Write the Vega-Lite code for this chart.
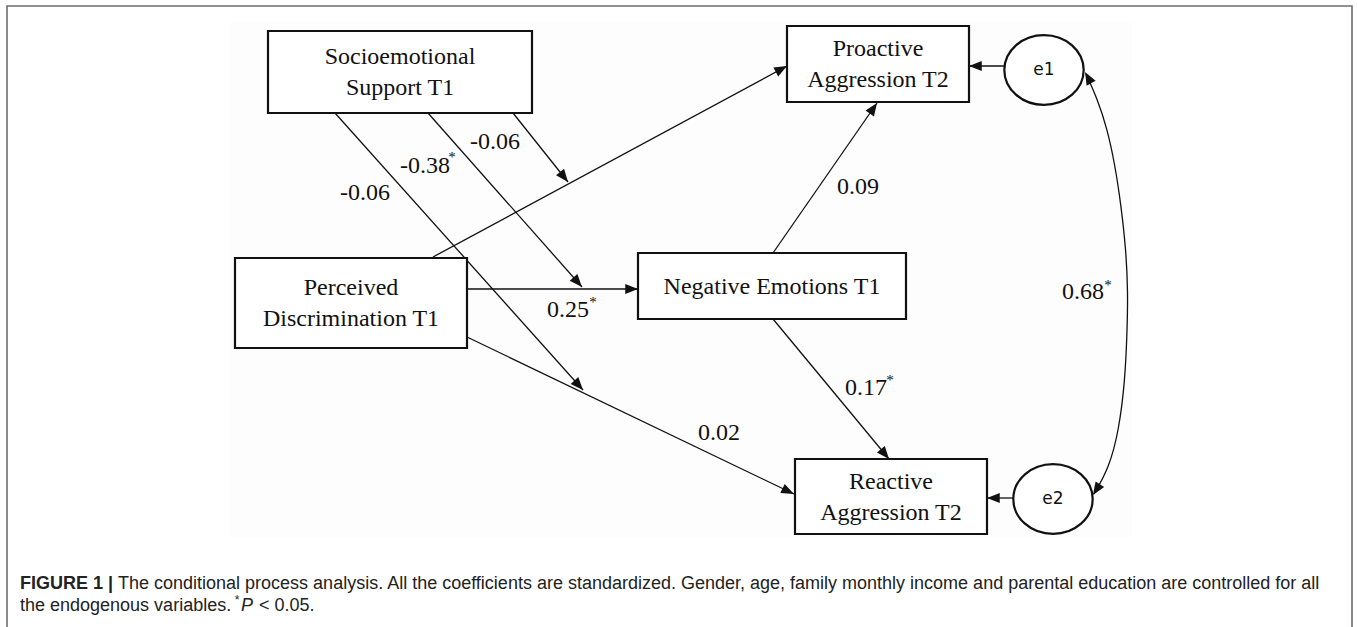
{
  "$schema": "https://vega.github.io/schema/vega-lite/v6.json",
  "width": 1357,
  "height": 627,
  "padding": 0,
  "autosize": "none",
  "background": "white",
  "config": {"view": {"stroke": null}},
  "datasets": {
    "panel": [{"x": 230, "y": 22, "x2": 1132, "y2": 537}],
    "frame": [{"x": 7, "y": 6, "x2": 1352, "y2": 680}],
    "boxes": [
      {"name": "Socioemotional Support T1", "x": 268, "y": 31, "x2": 532, "y2": 113},
      {"name": "Proactive Aggression T2", "x": 787, "y": 26, "x2": 969, "y2": 102},
      {"name": "Perceived Discrimination T1", "x": 235, "y": 258, "x2": 467, "y2": 348},
      {"name": "Negative Emotions T1", "x": 638, "y": 253, "x2": 906, "y2": 319},
      {"name": "Reactive Aggression T2", "x": 795, "y": 459, "x2": 987, "y2": 534}
    ],
    "boxlabels": [
      {"label": "Socioemotional\nSupport T1", "x": 400, "y": 57},
      {"label": "Proactive\nAggression T2", "x": 878, "y": 49},
      {"label": "Perceived\nDiscrimination T1", "x": 351, "y": 288},
      {"label": "Negative Emotions T1", "x": 772, "y": 287},
      {"label": "Reactive\nAggression T2", "x": 891, "y": 482}
    ],
    "errors": [
      {"name": "e1", "x": 1044, "y": 70},
      {"name": "e2", "x": 1053, "y": 499}
    ],
    "edges": [
      {"from": "Socioemotional Support T1", "to": "Perceived->Reactive path", "x1": 335, "y1": 113, "x2": 583, "y2": 390},
      {"from": "Socioemotional Support T1", "to": "Perceived->Negative path", "x1": 428, "y1": 113, "x2": 582, "y2": 287},
      {"from": "Socioemotional Support T1", "to": "Perceived->Proactive path", "x1": 513, "y1": 113, "x2": 568, "y2": 182},
      {"from": "Perceived Discrimination T1", "to": "Proactive Aggression T2", "x1": 433, "y1": 257, "x2": 787, "y2": 66},
      {"from": "Perceived Discrimination T1", "to": "Negative Emotions T1", "x1": 467, "y1": 289, "x2": 638, "y2": 289},
      {"from": "Perceived Discrimination T1", "to": "Reactive Aggression T2", "x1": 467, "y1": 337, "x2": 794, "y2": 494},
      {"from": "Negative Emotions T1", "to": "Proactive Aggression T2", "x1": 773, "y1": 253, "x2": 877, "y2": 103},
      {"from": "Negative Emotions T1", "to": "Reactive Aggression T2", "x1": 773, "y1": 319, "x2": 889, "y2": 459},
      {"from": "e1", "to": "Proactive Aggression T2", "x1": 1004, "y1": 66, "x2": 969, "y2": 66},
      {"from": "e2", "to": "Reactive Aggression T2", "x1": 1014, "y1": 498, "x2": 987, "y2": 498}
    ],
    "curve": [
      {"i": 0, "x": 1086, "y": 74},
      {"i": 1, "x": 1097, "y": 98},
      {"i": 2, "x": 1107, "y": 128},
      {"i": 3, "x": 1115, "y": 165},
      {"i": 4, "x": 1121, "y": 205},
      {"i": 5, "x": 1126, "y": 250},
      {"i": 6, "x": 1128, "y": 292},
      {"i": 7, "x": 1127, "y": 335},
      {"i": 8, "x": 1125, "y": 380},
      {"i": 9, "x": 1119, "y": 430},
      {"i": 10, "x": 1109, "y": 468},
      {"i": 11, "x": 1094, "y": 494}
    ],
    "curveheads": [
      {"end": "e1", "x1": 1096, "y1": 92, "x2": 1085, "y2": 72},
      {"end": "e2", "x1": 1109, "y1": 470, "x2": 1093, "y2": 495}
    ],
    "coefs": [
      {"path": "Socioemotional x Perceived -> Reactive", "value": "-0.06", "x": 340, "y": 193},
      {"path": "Socioemotional x Perceived -> Negative", "value": "-0.38", "x": 400, "y": 166},
      {"path": "Socioemotional x Perceived -> Proactive", "value": "-0.06", "x": 470, "y": 142},
      {"path": "Perceived -> Negative", "value": "0.25", "x": 547, "y": 310},
      {"path": "Negative -> Proactive", "value": "0.09", "x": 837, "y": 187},
      {"path": "Negative -> Reactive", "value": "0.17", "x": 845, "y": 388},
      {"path": "Perceived -> Reactive", "value": "0.02", "x": 698, "y": 433},
      {"path": "e1 <-> e2", "value": "0.68", "x": 1062, "y": 292}
    ],
    "stars": [
      {"path": "Socioemotional x Perceived -> Negative", "x": 452, "y": 157},
      {"path": "Perceived -> Negative", "x": 593, "y": 302},
      {"path": "Negative -> Reactive", "x": 890, "y": 380},
      {"path": "e1 <-> e2", "x": 1108, "y": 285}
    ],
    "caption_bold": [{"part": "FIGURE 1 |", "x": 20, "y": 584}],
    "caption_plain": [
      {"part": "The conditional process analysis. All the coefficients are standardized. Gender, age, family monthly income and parental education are controlled for all", "x": 118, "y": 584},
      {"part": "the endogenous variables.", "x": 20, "y": 606},
      {"part": "< 0.05.", "x": 259, "y": 606}
    ],
    "caption_italic": [{"part": "P", "x": 241, "y": 606}],
    "caption_star": [{"part": "*", "x": 237, "y": 600}]
  },
  "layer": [
    {
      "data": {"name": "panel"},
      "mark": {"type": "rect", "fill": "#fdfdfd", "stroke": null},
      "encoding": {
        "x": {"field": "x", "type": "quantitative", "scale": {"domain": [0, 1357], "nice": false, "zero": false}, "axis": null},
        "x2": {"field": "x2"},
        "y": {"field": "y", "type": "quantitative", "scale": {"domain": [0, 627], "nice": false, "zero": false, "reverse": true}, "axis": null},
        "y2": {"field": "y2"}
      }
    },
    {
      "data": {"name": "frame"},
      "mark": {"type": "rect", "fill": null, "filled": false, "stroke": "#6e6e6e", "strokeWidth": 1.6},
      "encoding": {
        "x": {"field": "x", "type": "quantitative", "axis": null},
        "x2": {"field": "x2"},
        "y": {"field": "y", "type": "quantitative", "axis": null},
        "y2": {"field": "y2"}
      }
    },
    {
      "data": {"name": "edges"},
      "mark": {"type": "rule", "stroke": "#111111", "strokeWidth": 1.3},
      "encoding": {
        "x": {"field": "x1", "type": "quantitative", "axis": null},
        "x2": {"field": "x2"},
        "y": {"field": "y1", "type": "quantitative", "axis": null},
        "y2": {"field": "y2"}
      }
    },
    {
      "data": {"name": "curve"},
      "mark": {"type": "line", "stroke": "#111111", "strokeWidth": 1.3, "interpolate": "basis"},
      "encoding": {
        "x": {"field": "x", "type": "quantitative", "axis": null},
        "y": {"field": "y", "type": "quantitative", "axis": null},
        "order": {"field": "i", "type": "quantitative"}
      }
    },
    {
      "data": {"name": "boxes"},
      "mark": {"type": "rect", "fill": "white", "stroke": "#111111", "strokeWidth": 2.2},
      "encoding": {
        "x": {"field": "x", "type": "quantitative", "axis": null},
        "x2": {"field": "x2"},
        "y": {"field": "y", "type": "quantitative", "axis": null},
        "y2": {"field": "y2"}
      }
    },
    {
      "data": {"name": "errors"},
      "mark": {"type": "point", "shape": "M-1,0C-1,-0.486,-0.552,-0.88,0,-0.88C0.552,-0.88,1,-0.486,1,0C1,0.486,0.552,0.88,0,0.88C-0.552,0.88,-1,0.486,-1,0Z", "size": 6300, "filled": true, "fill": "white", "stroke": "#111111", "strokeWidth": 2.2, "opacity": 1},
      "encoding": {
        "x": {"field": "x", "type": "quantitative", "axis": null},
        "y": {"field": "y", "type": "quantitative", "axis": null}
      }
    },
    {
      "data": {"name": "edges"},
      "transform": [{"calculate": "atan2(datum.x2 - datum.x1, datum.y1 - datum.y2) * 180 / PI", "as": "angle"}],
      "mark": {"type": "point", "shape": "M0,0L0.4,1L-0.4,1Z", "size": 650, "filled": true, "fill": "#111111", "stroke": null, "opacity": 1},
      "encoding": {
        "x": {"field": "x2", "type": "quantitative", "axis": null},
        "y": {"field": "y2", "type": "quantitative", "axis": null},
        "angle": {"field": "angle", "type": "quantitative", "scale": null}
      }
    },
    {
      "data": {"name": "curveheads"},
      "transform": [{"calculate": "atan2(datum.x2 - datum.x1, datum.y1 - datum.y2) * 180 / PI", "as": "angle"}],
      "mark": {"type": "point", "shape": "M0,0L0.4,1L-0.4,1Z", "size": 650, "filled": true, "fill": "#111111", "stroke": null, "opacity": 1},
      "encoding": {
        "x": {"field": "x2", "type": "quantitative", "axis": null},
        "y": {"field": "y2", "type": "quantitative", "axis": null},
        "angle": {"field": "angle", "type": "quantitative", "scale": null}
      }
    },
    {
      "data": {"name": "boxlabels"},
      "mark": {"type": "text", "font": "Liberation Serif", "fontSize": 24, "align": "center", "baseline": "middle", "lineBreak": "\n", "lineHeight": 31, "color": "#111111"},
      "encoding": {
        "x": {"field": "x", "type": "quantitative", "axis": null},
        "y": {"field": "y", "type": "quantitative", "axis": null},
        "text": {"field": "label"}
      }
    },
    {
      "data": {"name": "errors"},
      "mark": {"type": "text", "font": "DejaVu Sans", "fontSize": 17, "align": "center", "baseline": "middle", "color": "#111111"},
      "encoding": {
        "x": {"field": "x", "type": "quantitative", "axis": null},
        "y": {"field": "y", "type": "quantitative", "axis": null},
        "text": {"field": "name"}
      }
    },
    {
      "data": {"name": "coefs"},
      "mark": {"type": "text", "font": "Liberation Serif", "fontSize": 24, "align": "left", "baseline": "middle", "color": "#111111"},
      "encoding": {
        "x": {"field": "x", "type": "quantitative", "axis": null},
        "y": {"field": "y", "type": "quantitative", "axis": null},
        "text": {"field": "value"}
      }
    },
    {
      "data": {"name": "stars"},
      "mark": {"type": "text", "font": "Liberation Serif", "fontSize": 15, "align": "center", "baseline": "middle", "color": "#111111", "text": "*"},
      "encoding": {
        "x": {"field": "x", "type": "quantitative", "axis": null},
        "y": {"field": "y", "type": "quantitative", "axis": null}
      }
    },
    {
      "data": {"name": "caption_bold"},
      "mark": {"type": "text", "font": "Liberation Sans", "fontSize": 18, "fontWeight": "bold", "align": "left", "baseline": "middle", "color": "#222222"},
      "encoding": {
        "x": {"field": "x", "type": "quantitative", "axis": null},
        "y": {"field": "y", "type": "quantitative", "axis": null},
        "text": {"field": "part"}
      }
    },
    {
      "data": {"name": "caption_plain"},
      "mark": {"type": "text", "font": "Liberation Sans", "fontSize": 18, "align": "left", "baseline": "middle", "color": "#222222"},
      "encoding": {
        "x": {"field": "x", "type": "quantitative", "axis": null},
        "y": {"field": "y", "type": "quantitative", "axis": null},
        "text": {"field": "part"}
      }
    },
    {
      "data": {"name": "caption_italic"},
      "mark": {"type": "text", "font": "Liberation Sans", "fontSize": 18, "fontStyle": "italic", "align": "left", "baseline": "middle", "color": "#222222"},
      "encoding": {
        "x": {"field": "x", "type": "quantitative", "axis": null},
        "y": {"field": "y", "type": "quantitative", "axis": null},
        "text": {"field": "part"}
      }
    },
    {
      "data": {"name": "caption_star"},
      "mark": {"type": "text", "font": "Liberation Sans", "fontSize": 12, "align": "center", "baseline": "middle", "color": "#222222"},
      "encoding": {
        "x": {"field": "x", "type": "quantitative", "axis": null},
        "y": {"field": "y", "type": "quantitative", "axis": null},
        "text": {"field": "part"}
      }
    }
  ]
}
